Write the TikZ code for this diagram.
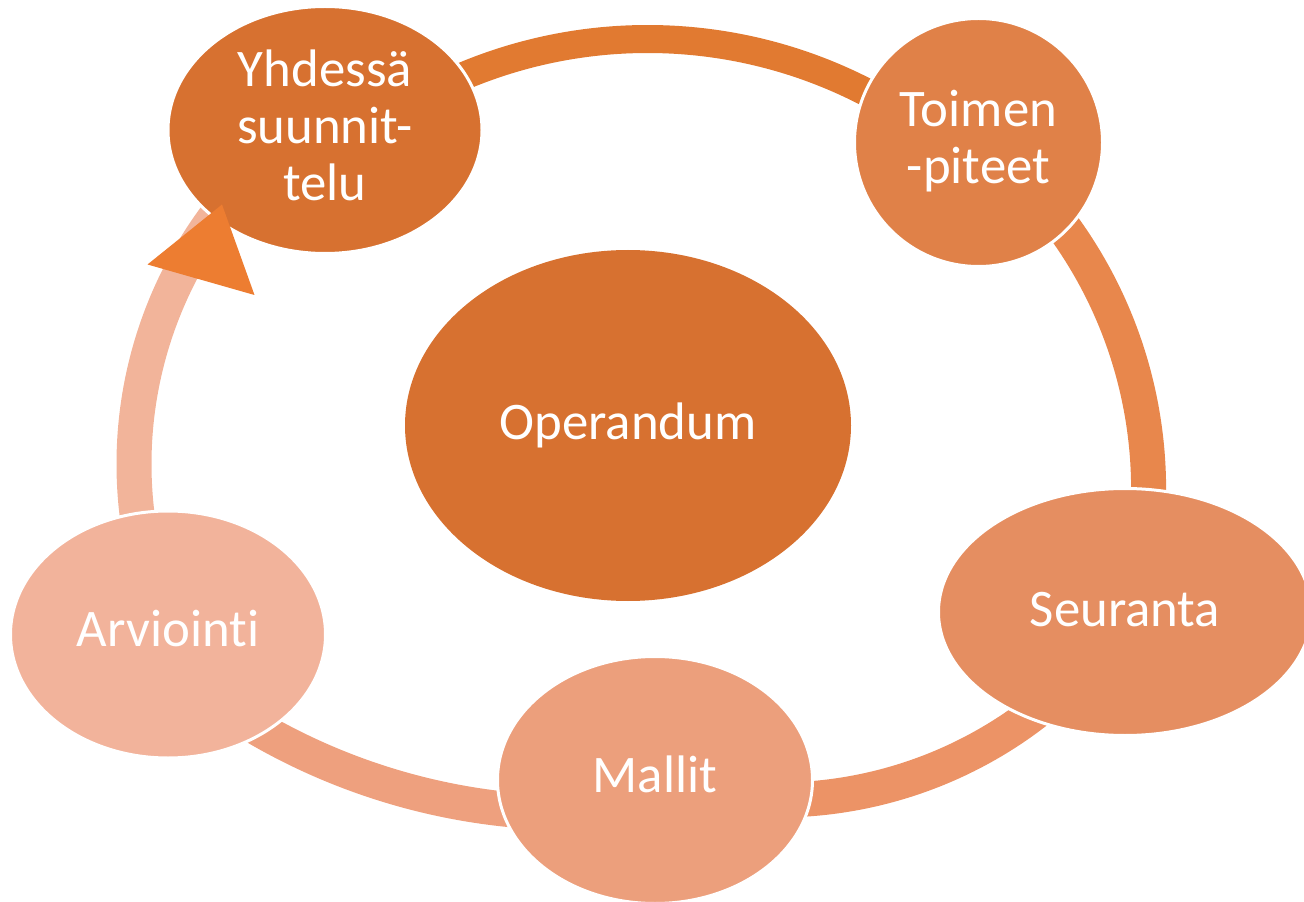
\documentclass[tikz,border=0pt]{standalone}
\usepackage{fontspec}
\setmainfont{Carlito}[Ligatures={NoCommon}]
\usetikzlibrary{shapes.geometric}
\definecolor{cOp}{HTML}{D77130}
\definecolor{cToi}{HTML}{E08148}
\definecolor{cSeu}{HTML}{E58E61}
\definecolor{cMal}{HTML}{EC9F7C}
\definecolor{cArv}{HTML}{F2B39B}
\definecolor{bTop}{HTML}{E17A31}
\definecolor{bRight}{HTML}{E8874C}
\definecolor{bBR}{HTML}{EC9366}
\definecolor{bBL}{HTML}{EEA07E}
\definecolor{bLeft}{HTML}{F2B49A}
\definecolor{cArrow}{HTML}{ED7D31}
\tikzset{
  stage/.style={ellipse, draw=white, line width=2.25pt, inner sep=0pt, text=white,
    font=\fontsize{39.6}{42.75}\selectfont},
  band/.style={line width=26.25pt, line cap=butt},
}
\begin{document}
\begin{tikzpicture}[x=0.75pt, y=-0.75pt]
\useasboundingbox (0,0) rectangle (1304,902);
\clip (0,0) rectangle (1304,902);
% centres of the connecting arcs
\coordinate (cTop) at (647.6,515);
\coordinate (cRight) at (702.6,489.2);
\coordinate (cBR) at (778,379);
\coordinate (cBL) at (571.6,186.7);
\coordinate (cLeft) at (549.5,464);
% connecting bands
\draw[band, bTop, line width=21pt] (cTop) ++(-118:476) arc[start angle=-118, end angle=-58, radius=476];
\draw[band, bRight] (cRight) ++(-40:446) arc[start angle=-40, end angle=6, radius=446];
\draw[band, bBR] (cBR) ++(48:421) arc[start angle=48, end angle=91, radius=421];
\draw[band, bBL] (cBL) ++(93:626) arc[start angle=93, end angle=122, radius=626];
\draw[band, bLeft] (cLeft) ++(170:415.5) arc[start angle=170, end angle=220, radius=415.5];
% stages
\node[stage, fill=cOp, draw=none, minimum width=334.5pt, minimum height=263.25pt, text height=21.75pt, text depth=0pt] (op) at (628,425.5) {Operandum};
\node[stage, fill=cOp, minimum width=235.5pt, minimum height=185.25pt, text height=0pt, text depth=65pt] (yht) at (325,130) {\begin{tabular}[t]{@{}c@{}}Yhdessä\\suunnit-\\telu\end{tabular}};
\node[stage, circle, fill=cToi, minimum size=186pt, text height=0pt, text depth=23.7pt] (toi) at (978.5,142.5) {\begin{tabular}[t]{@{}c@{}}Toimen\\-piteet\end{tabular}};
\node[stage, fill=cSeu, minimum width=279.75pt, minimum height=185.25pt, text height=22pt, text depth=0pt] (seu) at (1125,612) {Seuranta};
\node[stage, fill=cMal, minimum width=236.25pt, minimum height=185.25pt, text height=18.5pt, text depth=0pt] (mal) at (655,780) {Mallit};
\node[stage, fill=cArv, minimum width=236.25pt, minimum height=185.25pt, text height=18.5pt, text depth=0pt] (arv) at (168,634.5) {Arviointi};
% arrowhead
\fill[cArrow] (147.5,264.5) -- (222,204.5) -- (254.5,295) -- cycle;
\end{tikzpicture}
\end{document}
